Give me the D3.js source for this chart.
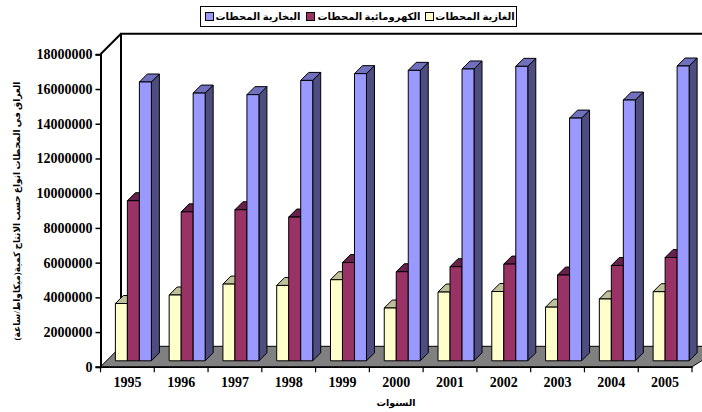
<!DOCTYPE html>
<html>
<head>
<meta charset="utf-8">
<script src="https://cdn.jsdelivr.net/npm/d3@7/dist/d3.min.js"></script>
<style>
  html, body { margin: 0; padding: 0; background: #fff; overflow: hidden; }
  svg { display: block; }
  text { fill: #000; font-weight: bold; }
  .num { font-family: "Liberation Serif", serif; font-size: 14px; }
  .ar { font-family: "Liberation Serif", "DejaVu Sans", serif; }
</style>
</head>
<body>
<svg id="chart" width="702" height="412"></svg>
<script>
// Iraqi power stations: annual output by plant type, in MWh
const years = ["1995","1996","1997","1998","1999","2000","2001","2002","2003","2004","2005"];
const gasStations   = [3300000,3790000,4420000,4340000,4670000,3040000,3960000,3990000,3090000,3560000,3980000];
const hydroStations = [9220000,8580000,8700000,8280000,5660000,5130000,5420000,5570000,4940000,5490000,5950000];
const steamStations = [16060000,15420000,15330000,16150000,16540000,16730000,16810000,16960000,13980000,15020000,16980000];
const yTicks = [0,2000000,4000000,6000000,8000000,10000000,12000000,14000000,16000000,18000000];
const seriesNames = ["الغازية المحطات","الكهرومائية المحطات","البخارية المحطات"];
const yTitle = "العراق في المحطات انواع حسب الانتاج كمية(ميكاواط/ساعة)";
const xTitle = "السنوات";

const svg = d3.select("#chart");

// Oblique projection: the plot floor recedes up and to the right
const wallDepth = 20.5, barInset = 6, barDepth = 8;
const x = d3.scaleBand().domain(years).range([100.5, 692]);
const y = d3.scaleLinear().domain([0, 18000000]).range([366.8, 54.3]);
const sub = d3.scaleBand().domain(d3.range(3)).range([0, 36]);
const y0 = y(0);

const faces = [
  { front: "#ffffcc", top: "#bfbf99", side: "#7f7f66", values: gasStations },
  { front: "#993366", top: "#66224a", side: "#4d1a33", values: hydroStations },
  { front: "#9999ff", top: "#7070bf", side: "#4d4d80", values: steamStations }
];

// Floor and walls
const floorBack = y0 - wallDepth;
svg.append("polygon")
  .attr("points", [[100.5, y0], [100.5 + wallDepth, floorBack], [725, floorBack], [692, y0]].join(" "))
  .attr("fill", "#808080").attr("stroke", "#000").attr("stroke-width", 1);
svg.append("path")
  .attr("d", `M${100.5 + wallDepth},${floorBack}V${y(18000000) - wallDepth}H702`)
  .attr("fill", "none").attr("stroke", "#000").attr("stroke-width", 2);
svg.append("path")
  .attr("d", `M100.5,${y(18000000)}L${100.5 + wallDepth},${y(18000000) - wallDepth}`)
  .attr("fill", "none").attr("stroke", "#000").attr("stroke-width", 2);

// Bars: each one is a front, a top and a right side face
const groups = svg.append("g").attr("stroke", "#000").attr("stroke-width", 1).attr("stroke-linejoin", "round")
  .selectAll("g").data(years).join("g")
  .attr("transform", d => `translate(${x(d) + (x.step() - 36) / 2 + barInset},${-barInset})`);

groups.each(function (year, i) {
  const g = d3.select(this);
  faces.forEach((f, s) => {
    const left = sub(s), right = left + sub.bandwidth(), top = y(f.values[i]);
    g.append("polygon")
      .attr("points", [[right, top], [right + barDepth, top - barDepth], [right + barDepth, y0 - barDepth], [right, y0]].join(" "))
      .attr("fill", f.side);
    g.append("polygon")
      .attr("points", [[left, top], [left + barDepth, top - barDepth], [right + barDepth, top - barDepth], [right, top]].join(" "))
      .attr("fill", f.top);
    g.append("rect")
      .attr("x", left).attr("y", top)
      .attr("width", sub.bandwidth()).attr("height", y0 - top)
      .attr("fill", f.front);
  });
});

// Value axis
const yAxis = svg.append("g").attr("transform", "translate(100.5,0)")
  .call(d3.axisLeft(y).tickValues(yTicks).tickFormat(d3.format("d")).tickSize(5).tickPadding(3));
yAxis.selectAll("text").attr("class", "num");
yAxis.select(".domain").attr("stroke-width", 2).attr("stroke", "#000");
yAxis.selectAll("line").attr("stroke-width", 1.5).attr("stroke", "#000");

// Year axis: labels centred in each band, ticks on the band boundaries
const xAxis = svg.append("g").attr("transform", `translate(0,${y0})`)
  .call(d3.axisBottom(x).tickSize(0).tickPadding(10));
xAxis.selectAll("text").attr("class", "num");
xAxis.select(".domain").attr("stroke-width", 1.5).attr("stroke", "#000");
svg.append("g").selectAll("line").data(years.concat("end")).join("line")
  .attr("x1", (d, i) => x.range()[0] + i * x.step())
  .attr("x2", (d, i) => x.range()[0] + i * x.step())
  .attr("y1", y0).attr("y2", y0 + 5.5)
  .attr("stroke", "#000").attr("stroke-width", 1.2);

// Axis titles
svg.append("text").attr("class", "ar").attr("direction", "rtl")
  .attr("text-anchor", "middle").attr("font-size", 9)
  .attr("transform", "translate(20,211) rotate(-90)").text(yTitle);
svg.append("text").attr("class", "ar").attr("direction", "rtl")
  .attr("text-anchor", "middle").attr("font-size", 9.5)
  .attr("x", 396).attr("y", 406).text(xTitle);

// Legend
const legend = svg.append("g");
legend.append("rect").attr("x", 200.5).attr("y", 6.5).attr("width", 316).attr("height", 20)
  .attr("fill", "#fff").attr("stroke", "#000");
const legendItems = [
  { swatch: 205.5, textMid: 258, name: seriesNames[2], fill: faces[2].front },
  { swatch: 306.5, textMid: 369, name: seriesNames[1], fill: faces[1].front },
  { swatch: 425.5, textMid: 475, name: seriesNames[0], fill: faces[0].front }
];
legendItems.forEach(d => {
  legend.append("rect").attr("x", d.swatch).attr("y", 12.5).attr("width", 8).attr("height", 8)
    .attr("fill", d.fill).attr("stroke", "#000");
  legend.append("text").attr("class", "ar").attr("direction", "rtl").attr("text-anchor", "middle")
    .attr("font-size", 10).attr("x", d.textMid).attr("y", 20).text(d.name);
});
</script>
</body>
</html>
